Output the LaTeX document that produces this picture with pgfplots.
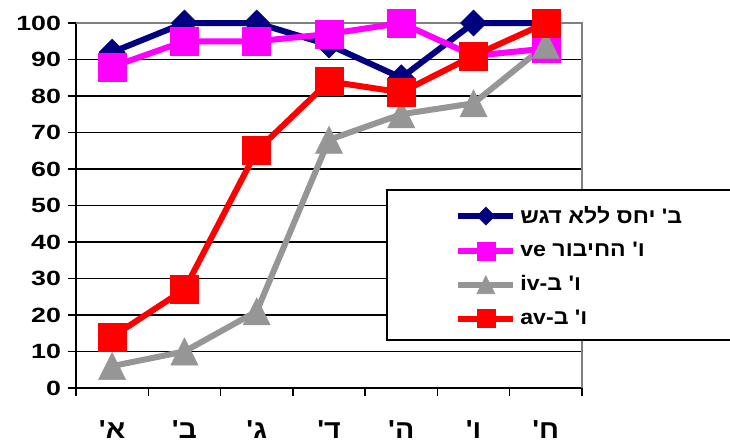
\documentclass[border=0pt]{standalone}
\usepackage{fontspec}
\setmainfont{Liberation Sans}[FakeStretch=1.3]
\newfontfamily\heb[Script=Hebrew,FakeStretch=1.1]{Liberation Sans}
\usepackage{pgfplots}
\usepackage{pgfplotstable}
\pgfplotsset{compat=1.18}
\TeXXeTstate=1

\definecolor{sernavy}{RGB}{0,0,128}
\definecolor{sermag}{RGB}{255,0,255}
\definecolor{sergray}{RGB}{150,150,150}
\definecolor{serred}{RGB}{255,0,0}
\definecolor{framegray}{RGB}{128,128,128}

% filled marks whose bounding box is centred on the data point
\pgfdeclareplotmark{boxtri}{%
  \pgfpathmoveto{\pgfqpoint{0pt}{\pgfplotmarksize}}%
  \pgfpathlineto{\pgfqpoint{\pgfplotmarksize}{-\pgfplotmarksize}}%
  \pgfpathlineto{\pgfqpoint{-\pgfplotmarksize}{-\pgfplotmarksize}}%
  \pgfpathclose
  \pgfusepathqfillstroke}
\pgfdeclareplotmark{boxdiamond}{%
  \pgfpathmoveto{\pgfqpoint{0pt}{\pgfplotmarksize}}%
  \pgfpathlineto{\pgfqpoint{\pgfplotmarksize}{0pt}}%
  \pgfpathlineto{\pgfqpoint{0pt}{-\pgfplotmarksize}}%
  \pgfpathlineto{\pgfqpoint{-\pgfplotmarksize}{0pt}}%
  \pgfpathclose
  \pgfusepathqfillstroke}

\newcommand\lbl{\fontsize{10.3}{12}\selectfont\bfseries}
\newcommand\leglbl{\fontsize{10.5}{12}\selectfont\bfseries}
\newcommand\catlbl{\fontsize{13}{15}\selectfont\bfseries}

% grade (0 = first) and score of each group
\pgfplotstableread{
x  bnodag vehib viv vav
0  92     88    6   14
1  100    95    10  27
2  100    95    21  65
3  94     97    68  84
4  85     100   75  81
5  100    91    78  91
6  100    93    94  100
}\scores

\begin{document}
\begin{tikzpicture}
\begin{axis}[
  at={(0,0)}, anchor=south west,
  scale only axis, width=253pt, height=182.5pt,
  xmin=-0.5, xmax=6.5, ymin=0, ymax=100,
  clip=false,
  axis x line*=bottom, axis y line*=left,
  axis line style={-, black, line width=0.7pt},
  ytick={0,10,...,100},
  ymajorgrids, major grid style={black, line width=0.6pt},
  xtick={-0.5,0.5,...,6.5}, xticklabels={},
  extra x ticks={0,1,2,3,4,5,6},
  extra x tick labels={{\heb\beginR א'\endR},{\heb\beginR ב'\endR},{\heb\beginR ג'\endR},{\heb\beginR ד'\endR},{\heb\beginR ה'\endR},{\heb\beginR ו'\endR},{\heb\beginR ח'\endR}},
  extra x tick style={major tick length=0pt, grid=none,
    xticklabel style={yshift=-13pt, font=\catlbl}},
  tick align=outside, major tick length=4pt,
  tick style={black, line width=0.7pt},
  ticklabel style={font=\lbl},
  /pgf/number format/assume math mode=true,
  legend style={at={(0.749,0.5105)}, anchor=north west, draw=none, fill=none,
    font=\leglbl, row sep=4pt, inner sep=0pt, legend cell align=left},
  legend image code/.code={\draw[mark repeat=2, mark phase=2, #1, mark size=4.5pt]
    plot coordinates {(0pt,0pt) (13.75pt,0pt) (27.5pt,0pt)};},
  every axis plot/.append style={line width=3pt},
]
\draw[framegray, line width=0.7pt] (rel axis cs:0,1) -- (rel axis cs:1,1) -- (rel axis cs:1,0);
\addplot[sernavy, mark=boxdiamond, mark size=6.5pt,
  mark options={solid, line width=0.3pt, fill=sernavy}] table[x=x, y=bnodag] {\scores};
\addlegendentry{\heb\beginR ב' יחס ללא דגש\endR}
\addplot[sermag, mark=square*, mark size=7pt,
  mark options={solid, line width=0.3pt, fill=sermag}] table[x=x, y=vehib] {\scores};
\addlegendentry{\heb\beginR ו' החיבור \beginL ve\endL\endR}
\addplot[sergray, mark=boxtri, mark size=6.75pt,
  mark options={solid, line width=0.3pt, fill=sergray}] table[x=x, y=viv] {\scores};
\addlegendentry{\heb\beginR ו' ב-\beginL iv\endL\endR}
\addplot[serred, mark=square*, mark size=7pt,
  mark options={solid, line width=0.3pt, fill=serred}] table[x=x, y=vav] {\scores};
\addlegendentry{\heb\beginR ו' ב-\beginL av\endL\endR}
\draw[black, line width=0.7pt, fill=white]
  (rel axis cs:0.6146,0.1315) rectangle (rel axis cs:1.5,0.5425);
\end{axis}
\pgfresetboundingbox
\useasboundingbox (-38pt,-26.5pt) rectangle (327pt,194pt);
\end{tikzpicture}
\end{document}
